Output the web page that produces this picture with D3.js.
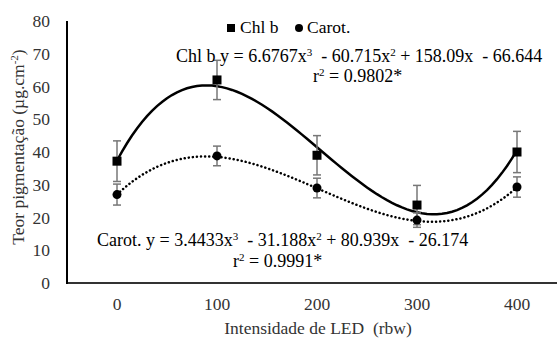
<!DOCTYPE html>
<html>
<head>
<meta charset="utf-8">
<script src="https://cdn.jsdelivr.net/npm/d3@7"></script>
<style>
  body { margin: 0; background: #fff; }
  text { font-family: "Liberation Serif", "Times New Roman", serif; white-space: pre; }
</style>
</head>
<body>
<svg id="chart" width="557" height="338"></svg>
<script>
// data
const categories = [0, 100, 200, 300, 400];
const chlB = [37.2, 62, 39, 23.8, 40];
const chlBErr = [6.2, 6, 6, 6, 6.3];
const carot = [27, 38.8, 29, 19.2, 29.3];
const carotErr = [3.2, 3, 3, 2.2, 3.1];
const yTicks = [0, 10, 20, 30, 40, 50, 60, 70, 80];
// trendline coefficients (x = category index 1..5), as printed on the chart
const chlBCoef = [6.6767, -60.715, 158.09, -66.644];
const carotCoef = [3.4433, -31.188, 80.939, -26.174];

const svg = d3.select('#chart');
const fs = 17.5;
const eqFs = 18;
const sup = (s) => '<tspan dy="-6" font-size="11">' + s + '</tspan>';

// x scale maps category index; axis runs off the right edge like the reference
const x = d3.scaleLinear().domain([0.5, 5.5]).range([67, 567]);
const y = d3.scaleLinear().domain([0, 80]).range([283, 21]);

function poly(c, t) {
  return c[0] * t * t * t + c[1] * t * t + c[2] * t + c[3];
}

// axes
svg.append('line')
  .attr('x1', x(0.5)).attr('x2', 557)
  .attr('y1', y(0)).attr('y2', y(0))
  .attr('stroke', '#333').attr('stroke-width', 2);
svg.append('line')
  .attr('x1', x(0.5)).attr('x2', x(0.5))
  .attr('y1', y(0) + 1).attr('y2', y(80))
  .attr('stroke', '#000').attr('stroke-width', 2);

// tick labels
svg.selectAll('.ytick')
  .data(yTicks)
  .enter()
  .append('text')
  .attr('x', 50)
  .attr('y', (d) => y(d))
  .attr('dy', '0.35em')
  .attr('text-anchor', 'end')
  .attr('font-size', fs)
  .attr('fill', '#333')
  .text((d) => d);

svg.selectAll('.xtick')
  .data(categories)
  .enter()
  .append('text')
  .attr('x', (d, i) => x(i + 1))
  .attr('y', 310)
  .attr('text-anchor', 'middle')
  .attr('font-size', fs)
  .attr('fill', '#333')
  .text((d) => d);

// axis titles
svg.append('text')
  .attr('x', 318)
  .attr('y', 334)
  .attr('text-anchor', 'middle')
  .attr('font-size', fs)
  .attr('fill', '#333')
  .text('Intensidade de LED  (rbw)');

svg.append('text')
  .attr('transform', 'translate(24,147) rotate(-90)')
  .attr('text-anchor', 'middle')
  .attr('font-size', fs)
  .attr('fill', '#333')
  .html('Teor pigmentação (µg.cm' + sup('-2') + '<tspan dy="6">)</tspan>');

// trendlines
const ts = d3.range(1, 5.001, 0.05);
const line = d3.line()
  .x((d) => x(d[0]))
  .y((d) => y(d[1]));

svg.append('path')
  .attr('d', line(ts.map((t) => [t, poly(chlBCoef, t)])))
  .attr('fill', 'none')
  .attr('stroke', '#000')
  .attr('stroke-width', 2.5);

svg.append('path')
  .attr('d', line(ts.map((t) => [t, poly(carotCoef, t)])))
  .attr('fill', 'none')
  .attr('stroke', '#000')
  .attr('stroke-width', 2.5)
  .attr('stroke-dasharray', '0.1 4')
  .attr('stroke-linecap', 'round');

// error bars
function errorBars(vals, errs) {
  const g = svg.append('g').attr('stroke', '#777').attr('stroke-width', 1.5);
  vals.forEach((v, i) => {
    const cx = x(i + 1);
    g.append('line').attr('x1', cx).attr('x2', cx)
      .attr('y1', y(v + errs[i])).attr('y2', y(v - errs[i]));
    g.append('line').attr('x1', cx - 4).attr('x2', cx + 4)
      .attr('y1', y(v + errs[i])).attr('y2', y(v + errs[i]));
    g.append('line').attr('x1', cx - 4).attr('x2', cx + 4)
      .attr('y1', y(v - errs[i])).attr('y2', y(v - errs[i]));
  });
}
errorBars(chlB, chlBErr);
errorBars(carot, carotErr);

// markers
svg.selectAll('.sq')
  .data(chlB)
  .enter()
  .append('rect')
  .attr('x', (d, i) => x(i + 1) - 4.5)
  .attr('y', (d) => y(d) - 4.5)
  .attr('width', 9)
  .attr('height', 9)
  .attr('fill', '#000');

svg.selectAll('.dot')
  .data(carot)
  .enter()
  .append('circle')
  .attr('cx', (d, i) => x(i + 1))
  .attr('cy', (d) => y(d))
  .attr('r', 4.5)
  .attr('fill', '#000');

// legend
svg.append('rect').attr('x', 227).attr('y', 24).attr('width', 8).attr('height', 8).attr('fill', '#000');
svg.append('text').attr('x', 240).attr('y', 33).attr('font-size', fs).text('Chl b');
svg.append('circle').attr('cx', 299).attr('cy', 28).attr('r', 4).attr('fill', '#000');
svg.append('text').attr('x', 307).attr('y', 33).attr('font-size', fs).text('Carot.');

// equations
svg.append('text').attr('x', 176).attr('y', 62).attr('font-size', eqFs)
  .html('Chl b y = 6.6767x' + sup('3') + '<tspan dy="6">  - 60.715x</tspan>' + sup('2') + '<tspan dy="6"> + 158.09x  - 66.644</tspan>');
svg.append('text').attr('x', 313).attr('y', 82).attr('font-size', eqFs)
  .html('r' + sup('2') + '<tspan dy="6"> = 0.9802*</tspan>');

svg.append('text').attr('x', 97).attr('y', 246).attr('font-size', eqFs)
  .html('Carot. y = 3.4433x' + sup('3') + '<tspan dy="6">  - 31.188x</tspan>' + sup('2') + '<tspan dy="6"> + 80.939x  - 26.174</tspan>');
svg.append('text').attr('x', 233).attr('y', 267).attr('font-size', eqFs)
  .html('r' + sup('2') + '<tspan dy="6"> = 0.9991*</tspan>');
</script>
</body>
</html>
